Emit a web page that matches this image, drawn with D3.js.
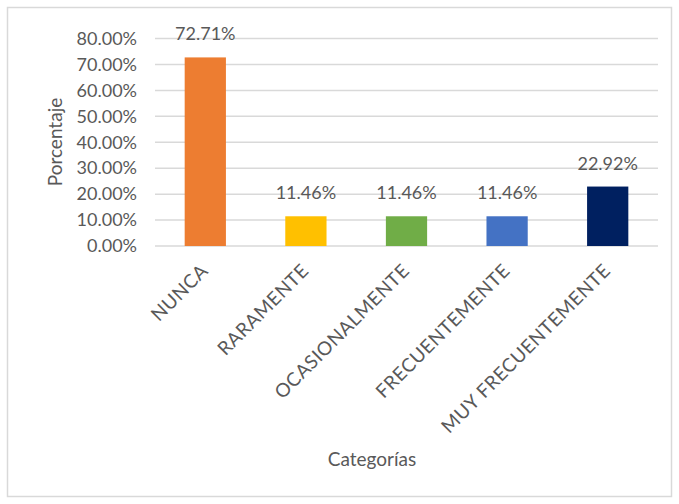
<!DOCTYPE html>
<html>
<head>
<meta charset="utf-8">
<script src="https://cdn.jsdelivr.net/npm/d3@7"></script>
<style>
body { margin: 0; background: #fff; }
text { font-family: Lato, "Open Sans", sans-serif; fill: #595959; }
</style>
</head>
<body>
<svg width="679" height="504"></svg>
<script>
var categories = ["NUNCA", "RARAMENTE", "OCASIONALMENTE", "FRECUENTEMENTE", "MUY FRECUENTEMENTE"];
var values = [72.71, 11.46, 11.46, 11.46, 22.92];
var colors = ["#ED7D31", "#FFC000", "#70AD47", "#4472C4", "#002060"];
var yTicks = [0, 10, 20, 30, 40, 50, 60, 70, 80];

var svg = d3.select("svg");

// outer frame
svg.append("rect")
  .attr("x", 7.5).attr("y", 7.5)
  .attr("width", 664).attr("height", 489)
  .attr("fill", "none")
  .attr("stroke", "#d9d9d9")
  .attr("stroke-width", 1.5);

var plotLeft = 155, plotRight = 658, plotTop = 38.5, plotBottom = 246;

var x = d3.scaleBand()
  .domain(categories)
  .range([plotLeft, plotRight])
  .paddingInner(0.59)
  .paddingOuter(0.295);

var y = d3.scaleLinear()
  .domain([0, 80])
  .range([plotBottom, plotTop]);

// gridlines
svg.selectAll(".grid")
  .data(yTicks)
  .enter()
  .append("line")
  .attr("x1", plotLeft)
  .attr("x2", plotRight)
  .attr("y1", function(d){ return y(d); })
  .attr("y2", function(d){ return y(d); })
  .attr("stroke", "#d9d9d9")
  .attr("stroke-width", 1.5);

// y axis labels
var yAxis = d3.axisLeft(y)
  .tickValues(yTicks)
  .tickSize(0)
  .tickPadding(0)
  .tickFormat(function(d){ return d.toFixed(2) + "%"; });

var yg = svg.append("g")
  .attr("transform", "translate(" + (plotLeft - 18) + ",0)")
  .call(yAxis);
yg.select(".domain").remove();
yg.selectAll("text")
  .attr("font-size", "18px")
  .attr("fill", "#595959")
  .style("font-family", "Lato, sans-serif");

// bars
svg.selectAll(".bar")
  .data(values)
  .enter()
  .append("rect")
  .attr("x", function(d, i){ return x(categories[i]); })
  .attr("y", function(d){ return y(d); })
  .attr("width", x.bandwidth())
  .attr("height", function(d){ return plotBottom - y(d); })
  .attr("fill", function(d, i){ return colors[i]; });

// value labels
svg.selectAll(".lbl")
  .data(values)
  .enter()
  .append("text")
  .text(function(d){ return d.toFixed(2) + "%"; })
  .attr("x", function(d, i){ return x(categories[i]) + x.bandwidth() / 2; })
  .attr("y", function(d){ return y(d) - 17; })
  .attr("text-anchor", "middle")
  .attr("font-size", "18px");

// category labels
svg.selectAll(".cat")
  .data(categories)
  .enter()
  .append("text")
  .text(function(d){ return d; })
  .attr("text-anchor", "end")
  .attr("font-size", "19px")
  .attr("letter-spacing", "0.5px")
  .attr("transform", function(d){
    return "translate(" + (x(d) + x.bandwidth() / 2 + 4) + "," + (plotBottom + 26) + ") rotate(-45)";
  });

// axis titles
svg.append("text")
  .text("Porcentaje")
  .attr("text-anchor", "middle")
  .attr("font-size", "19px")
  .attr("transform", "translate(62,142) rotate(-90)");

svg.append("text")
  .text("Categorías")
  .attr("x", 372)
  .attr("y", 466)
  .attr("text-anchor", "middle")
  .attr("font-size", "19px");
</script>
</body>
</html>
